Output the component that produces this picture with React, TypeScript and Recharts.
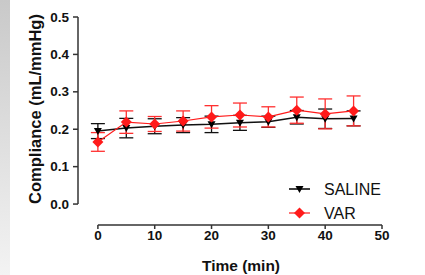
import React from "react";
import {
  LineChart,
  Line,
  XAxis,
  YAxis,
  ErrorBar,
  ReferenceLine,
} from "recharts";

const timeMin = [0, 5, 10, 15, 20, 25, 30, 35, 40, 45];
const saline = [0.195, 0.203, 0.208, 0.211, 0.213, 0.217, 0.22, 0.232, 0.228, 0.229];
const salineErr = [0.02, 0.026, 0.02, 0.02, 0.022, 0.02, 0.015, 0.018, 0.026, 0.02];
const varValues = [0.166, 0.219, 0.214, 0.222, 0.233, 0.238, 0.233, 0.251, 0.241, 0.249];
const varErr = [0.025, 0.03, 0.02, 0.027, 0.03, 0.032, 0.027, 0.035, 0.04, 0.04];

const xTicks = [0, 10, 20, 30, 40, 50];
const yTicks = [0, 0.1, 0.2, 0.3, 0.4, 0.5];

const data = timeMin.map((t, i) => ({
  t,
  saline: saline[i],
  salineErr: salineErr[i],
  var: varValues[i],
  varErr: varErr[i],
}));

const X_MIN = -3.5;
const Y_MIN = -0.056;
const AXIS = "#333";
const FONT = "Arial, 'Liberation Sans', sans-serif";

const Triangle = (props: any) => {
  const { cx, cy } = props;
  if (cx == null || cy == null) return null;
  return <path d={`M${cx - 4},${cy - 3} L${cx + 4},${cy - 3} L${cx},${cy + 4} Z`} fill="#000" />;
};

const Diamond = (props: any) => {
  const { cx, cy } = props;
  if (cx == null || cy == null) return null;
  return <path d={`M${cx},${cy - 5.5} L${cx + 5.5},${cy} L${cx},${cy + 5.5} L${cx - 5.5},${cy} Z`} fill="#ff1a1a" />;
};

const XTick = (props: any) => {
  const { x, y, payload } = props;
  return (
    <text x={x} y={y + 9} textAnchor="middle" fontSize={13.5} fontWeight="bold" fontFamily={FONT} fill="#111">
      {payload.value}
    </text>
  );
};

const YTick = (props: any) => {
  const { x, y, payload } = props;
  return (
    <text x={x - 2} y={y} textAnchor="end" dominantBaseline="central" fontSize={13.5} fontWeight="bold" fontFamily={FONT} fill="#111">
      {Number(payload.value).toFixed(1)}
    </text>
  );
};

const LegendBox = () => (
  <svg width={110} height={50} style={{ position: "absolute", left: 285, top: 178, fontFamily: FONT }}>
    <line x1={4} y1={11} x2={25} y2={11} stroke="#000" strokeWidth={1.5} />
    <Triangle cx={14.5} cy={11} />
    <text x={39} y={11} dominantBaseline="central" fontSize={16} fill="#111">SALINE</text>
    <line x1={4} y1={35} x2={25} y2={35} stroke="#ff1a1a" strokeWidth={1.2} />
    <Diamond cx={14.5} cy={35} />
    <text x={39} y={35} dominantBaseline="central" fontSize={16} fill="#111">VAR</text>
  </svg>
);

export default function App() {
  return (
    <div style={{ position: "absolute", left: 0, top: 0, width: 425, height: 275, background: "#fff" }}>
      <div
        style={{
          position: "absolute",
          left: 0,
          top: 0,
          width: 10,
          height: 275,
          background: "linear-gradient(to bottom, #c9c9c9, #f3f3f3)",
        }}
      />
      <LineChart
        width={425}
        height={275}
        data={data}
        margin={{ top: 17, right: 43, bottom: 0, left: 28 }}
        style={{ position: "absolute", left: 0, top: 0 }}
      >
        <XAxis
          dataKey="t"
          type="number"
          domain={[X_MIN, 50]}
          ticks={xTicks}
          allowDataOverflow
          axisLine={false}
          tickLine={{ stroke: AXIS, strokeWidth: 1.5 }}
          tickSize={4}
          height={50}
          tick={<XTick />}
          label={{
            content: () => (
              <text x={241} y={265} textAnchor="middle" dominantBaseline="central" fontSize={15.5} fontWeight="bold" fontFamily={FONT} fill="#111">
                Time (min)
              </text>
            ),
          }}
        />
        <YAxis
          type="number"
          domain={[Y_MIN, 0.5]}
          ticks={yTicks}
          allowDataOverflow
          width={50}
          axisLine={false}
          tickLine={{ stroke: AXIS, strokeWidth: 1.5 }}
          tickSize={5}
          tick={<YTick />}
          label={{
            content: () => (
              <text x={35} y={109} transform="rotate(-90 35 109)" textAnchor="middle" dominantBaseline="central" fontSize={16.5} fontWeight="bold" fontFamily={FONT} fill="#111">
                Compliance (mL/mmHg)
              </text>
            ),
          }}
        />
        <ReferenceLine
          segment={[{ x: X_MIN, y: 0 }, { x: X_MIN, y: 0.5 }]}
          stroke={AXIS}
          strokeWidth={1.5}
          ifOverflow="visible"
        />
        <ReferenceLine
          segment={[{ x: 0, y: Y_MIN }, { x: 50, y: Y_MIN }]}
          stroke={AXIS}
          strokeWidth={1.5}
          ifOverflow="visible"
        />
        <Line
          dataKey="saline"
          stroke="#111"
          strokeWidth={1.5}
          dot={<Triangle />}
          activeDot={false}
          isAnimationActive={false}
        >
          <ErrorBar dataKey="salineErr" width={7} stroke="#111" strokeWidth={1.3} direction="y" />
        </Line>
        <Line
          dataKey="var"
          stroke="#ff1a1a"
          strokeWidth={1.2}
          dot={<Diamond />}
          activeDot={false}
          isAnimationActive={false}
        >
          <ErrorBar dataKey="varErr" width={7} stroke="#ff3030" strokeWidth={1.3} direction="y" />
        </Line>
      </LineChart>
      <LegendBox />
    </div>
  );
}
